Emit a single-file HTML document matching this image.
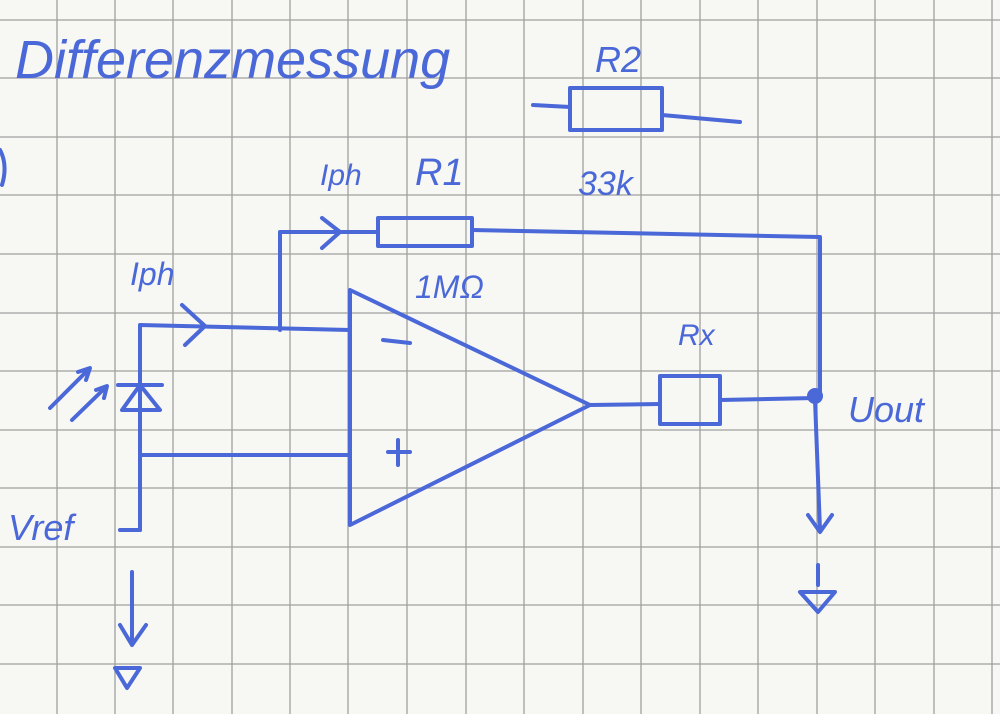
<!DOCTYPE html>
<html><head><style>
html,body{margin:0;padding:0;background:#f7f7f3;}
svg{display:block;}
text{font-family:"Liberation Sans",sans-serif;fill:#4a68d8;font-style:italic;}
</style></head><body>
<svg width="1000" height="714" viewBox="0 0 1000 714" xmlns="http://www.w3.org/2000/svg">
<rect width="1000" height="714" fill="#f7f7f3"/>
<g stroke="#a0a0a0" stroke-width="1.3">
<line x1="57" y1="0" x2="57" y2="714"/><line x1="115" y1="0" x2="115" y2="714"/>
<line x1="173" y1="0" x2="173" y2="714"/><line x1="232" y1="0" x2="232" y2="714"/>
<line x1="290" y1="0" x2="290" y2="714"/><line x1="348" y1="0" x2="348" y2="714"/>
<line x1="407" y1="0" x2="407" y2="714"/><line x1="466" y1="0" x2="466" y2="714"/>
<line x1="524" y1="0" x2="524" y2="714"/><line x1="583" y1="0" x2="583" y2="714"/>
<line x1="641" y1="0" x2="641" y2="714"/><line x1="700" y1="0" x2="700" y2="714"/>
<line x1="758" y1="0" x2="758" y2="714"/><line x1="817" y1="0" x2="817" y2="714"/>
<line x1="875" y1="0" x2="875" y2="714"/><line x1="934" y1="0" x2="934" y2="714"/>
<line x1="992" y1="0" x2="992" y2="714"/>
<line x1="0" y1="20" x2="1000" y2="20"/><line x1="0" y1="78" x2="1000" y2="78"/>
<line x1="0" y1="137" x2="1000" y2="137"/><line x1="0" y1="195" x2="1000" y2="195"/>
<line x1="0" y1="254" x2="1000" y2="254"/><line x1="0" y1="313" x2="1000" y2="313"/>
<line x1="0" y1="371" x2="1000" y2="371"/><line x1="0" y1="430" x2="1000" y2="430"/>
<line x1="0" y1="488" x2="1000" y2="488"/><line x1="0" y1="547" x2="1000" y2="547"/>
<line x1="0" y1="605" x2="1000" y2="605"/><line x1="0" y1="664" x2="1000" y2="664"/>
</g>
<g stroke="#4a68d8" stroke-width="4" fill="none" stroke-linecap="round" stroke-linejoin="round">
<!-- R2 -->
<path d="M533 105 L570 107 M662 115 L740 122"/>
<rect x="570" y="88" width="92" height="42"/>
<!-- R1 and top wire -->
<path d="M280 330 L280 232 L378 232 M472 230 L820 237 L820 395"/>
<path d="M322 218 L340 232 L322 248"/>
<rect x="378" y="218" width="94" height="28"/>
<!-- opamp -->
<path d="M350 290 L350 525 L590 405 Z"/>
<path d="M383 340 L410 343 M388 452 L410 452 M398 440 L398 465"/>
<!-- inverting input -->
<path d="M140 530 L140 325 L350 330"/>
<path d="M182 305 L205 326 L185 345"/>
<!-- non-inverting -->
<path d="M140 455 L350 455"/>
<!-- photodiode -->
<path d="M118 385 L162 385 M122 410 L140 385 L160 410 Z"/>
<path d="M50 408 L88 370 M78 372 L90 368 L86 380 M72 420 L105 388 M96 390 L107 386 L104 398"/>
<!-- Vref -->
<path d="M120 530 L140 530"/>
<path d="M132 572 L132 645 M120 625 L132 645 L146 625"/>
<path d="M115 668 L140 668 L127 688 Z"/>
<!-- output -->
<path d="M590 405 L660 404 M720 400 L815 398"/>
<rect x="660" y="376" width="60" height="48"/>
<circle cx="815" cy="396" r="6" fill="#4a68d8"/>
<path d="M815 400 L820 530 M808 515 L820 532 L832 515"/>
<path d="M818 565 L818 585 M800 592 L835 592 L818 612 Z"/>
<path d="M0 150 Q8 165 2 185"/>
</g>
<text x="15" y="78" font-size="54">Differenzmessung</text>
<text x="595" y="72" font-size="36">R2</text>
<text x="578" y="195" font-size="34">33k</text>
<text x="320" y="185" font-size="30">Iph</text>
<text x="415" y="185" font-size="38">R1</text>
<text x="415" y="298" font-size="32">1MΩ</text>
<text x="130" y="285" font-size="32">Iph</text>
<text x="678" y="345" font-size="30">Rx</text>
<text x="848" y="422" font-size="36">Uout</text>
<text x="8" y="540" font-size="36">Vref</text>
</svg>
</body></html>
